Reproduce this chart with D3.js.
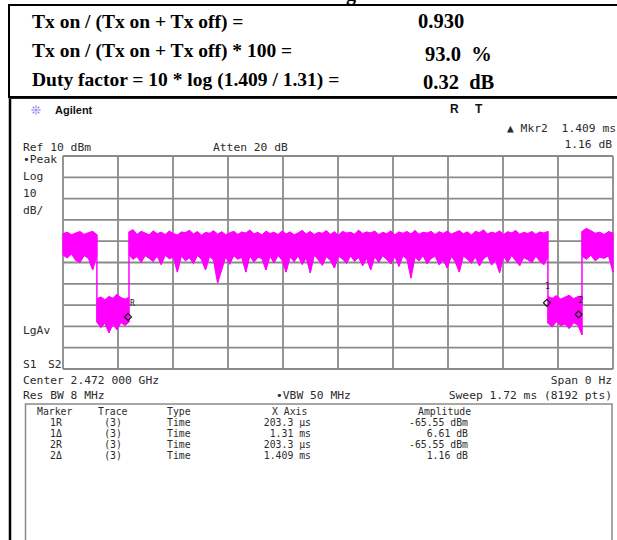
<!DOCTYPE html>
<html><head><meta charset="utf-8">
<script src="https://cdn.jsdelivr.net/npm/d3@7"></script>
<style>html,body{margin:0;padding:0;background:#fff;overflow:hidden}svg{display:block}</style>
</head><body>
<script>
// ---------- summary table ----------
const summaryLabels = ["Tx on / (Tx on + Tx off) =", "Tx on / (Tx on + Tx off) * 100 =", "Duty factor = 10 * log (1.409 / 1.31) ="];
const summaryValues = ["0.930", "93.0\u00A0\u00A0%", "0.32\u00A0\u00A0dB"];

// ---------- analyzer settings ----------
const refLevel = 10;        // dBm (top of screen)
const dbPerDiv = 10;        // dB / division
const divisions = 10;
const sweepTime = 1.72;     // ms
const headerLeft = ["Ref 10 dBm"];
const headerMid = ["Atten 20 dB"];
const sideLabels = ["\u2022Peak", "Log", "10", "dB/"];
const markerReadout = ["\u25B2 Mkr2", "1.409 ms", "1.16 dB"];
const footerRow1 = ["Center 2.472 000 GHz", "Span 0 Hz"];
const footerRow2 = ["Res BW 8 MHz", "\u2022VBW 50 MHz", "Sweep 1.72 ms (8192 pts)"];

// ---------- trace: burst segments (ms) ----------
const segStart = [0, 0.106, 0.2064, 1.5165, 1.623];
const segEnd   = [0.106, 0.2064, 1.5165, 1.623, 1.72];
const onMaxA  = [-26.5,-25.8,-27.0,-26.2,-25.5,-26.8,-26.0,-25.4,-26.9];
const onMinA  = [-36.5,-37.8,-36.0,-39.0,-40.0,-36.8,-38.0,-43.5,-36.5];
const offMaxB = [-57.0,-56.2,-57.5,-56.0,-56.8,-55.0,-56.5,-57.2,-56.4];
const offMinB = [-68.0,-70.5,-68.5,-73.0,-69.0,-71.5,-68.2,-69.5,-68.0];
const onMaxC  = [-25.6,-24.6,-26.8,-25.4,-26.2,-27.0,-25.2,-26.5,-25.8,-26.9,
                 -25.3,-26.4,-27.1,-25.7,-26.0,-24.9,-26.6,-25.5,-27.2,-25.9,
                 -26.3,-25.1,-26.7,-25.6,-27.0,-26.1,-25.4,-26.8,-25.7,-26.2,
                 -24.8,-26.5,-25.9,-27.1,-25.3,-26.4,-25.8,-26.9,-25.2,-26.6,
                 -25.7,-27.0,-26.1,-25.0,-26.6,-25.5,-26.9,-25.9,-26.3,-25.1,
                 -26.8,-25.6,-27.2,-25.4,-26.2,-25.8,-26.7,-24.9,-26.4,-25.7,
                 -26.1,-25.3,-26.9,-25.9,-26.5,-25.2,-27.0,-25.7,-26.3,-25.5,
                 -26.6,-25.0,-26.8,-25.8,-26.2,-25.4,-26.9,-25.6,-26.4,-25.3,
                 -26.7,-25.9,-25.1,-26.5,-25.7,-27.1,-25.4,-26.0,-24.7,-26.6,
                 -25.8,-26.3,-25.2,-26.9,-25.6,-26.1,-25.0,-26.7,-25.9,-26.4,
                 -25.5,-26.8,-25.7,-26.2,-25.4];
const onMinC  = [-36.5,-38.5,-37.2,-40.0,-36.8,-38.0,-39.5,-37.0,-41.0,-36.6,
                 -38.2,-37.4,-44.5,-36.9,-39.2,-37.8,-40.5,-36.7,-38.6,-43.5,
                 -37.1,-39.0,-49.6,-43.5,-37.3,-40.8,-36.8,-38.4,-37.6,-44.5,
                 -36.9,-39.8,-37.5,-38.1,-43.5,-37.0,-40.2,-36.7,-38.9,-44.5,
                 -37.4,-39.6,-36.8,-40.9,-37.9,-44.9,-36.6,-38.7,-41.3,-37.2,
                 -39.1,-42.6,-37.0,-38.3,-40.4,-36.9,-39.4,-37.6,-41.5,-38.0,
                 -43.5,-37.3,-39.9,-36.8,-38.6,-40.7,-37.1,-41.8,-36.9,-38.4,
                 -47.3,-37.5,-39.3,-36.7,-40.6,-38.1,-37.0,-41.1,-38.8,-42.6,
                 -37.2,-39.7,-44.5,-36.9,-38.5,-40.3,-37.4,-41.6,-38.2,-36.8,
                 -41.2,-38.9,-44.9,-37.1,-40.0,-36.7,-39.2,-41.4,-37.6,-38.7,
                 -40.1,-37.0,-39.5,-41.0,-37.3];
const offMaxD = [-56.0,-56.8,-55.6,-57.2,-56.3,-55.4,-57.0,-56.1,-55.8];
const offMinD = [-68.5,-70.2,-67.8,-69.6,-68.9,-71.0,-68.3,-69.2,-74.0];
const onMaxE  = [-25.4,-24.0,-25.1,-26.3,-25.8,-26.9,-25.5,-26.2];
const onMinE  = [-37.0,-38.4,-36.6,-39.2,-37.5,-38.0,-36.9,-44.5];

// ---------- markers ----------
const markerRefTime = 0.2033;   // ms
const markerRefLevel = -65.55;  // dBm
const markerDeltaTime = [1.31, 1.409];  // ms
const markerDeltaLevel = [6.61, 1.16];  // dB
const tableHeaders = ["Marker", "Trace", "Type", "X Axis", "Amplitude"];
const markerNames = ["1R", "1\u0394", "2R", "2\u0394"];
const markerTraces = ["(3)", "(3)", "(3)", "(3)"];
const markerTypes = ["Time", "Time", "Time", "Time"];
const markerXAxis = ["203.3 \u03BCs", "1.31 ms", "203.3 \u03BCs", "1.409 ms"];
const markerAmps = ["-65.55 dBm", "6.61 dB", "-65.55 dBm", "1.16 dB"];

// =====================================================
const W = 617, H = 540;
const svg = d3.select("body").append("svg").attr("width", W).attr("height", H);

// ---------- summary box ----------
svg.append("text").attr("x", 346).attr("y", 0).attr("font-family", "Liberation Serif").attr("font-weight", "bold")
  .attr("font-size", 20).text("g");
svg.append("rect").attr("x", 9).attr("y", 5).attr("width", 640).attr("height", 92)
  .attr("fill", "none").attr("stroke", "#000").attr("stroke-width", 2);
const labY = [28, 57, 86], valY = [28, 61, 89], valX = [418, 425, 423];
const sumG = svg.append("g").attr("font-family", "Liberation Serif").attr("font-weight", "bold")
  .attr("fill", "#000");
sumG.selectAll(".lab").data(summaryLabels).join("text").attr("class", "lab").attr("font-size", 19.5)
  .attr("x", 32).attr("y", (d, i) => labY[i]).text(d => d);
sumG.selectAll(".val").data(summaryValues).join("text").attr("class", "val").attr("font-size", 20.5)
  .attr("x", (d, i) => valX[i]).attr("y", (d, i) => valY[i]).text(d => d);

// ---------- lower panel frame ----------
svg.append("line").attr("x1", 10).attr("x2", 10).attr("y1", 97).attr("y2", H)
  .attr("stroke", "#000").attr("stroke-width", 2.5);
svg.append("line").attr("x1", 9).attr("x2", W).attr("y1", 98.5).attr("y2", 98.5)
  .attr("stroke", "#222").attr("stroke-width", 1);

// ---------- logo ----------
const star = svg.append("g").attr("transform", "translate(36,110)").attr("stroke", "#7a7aee").attr("stroke-width", 1.1);
d3.range(8).forEach(k => {
  const a = k * Math.PI / 4;
  star.append("line").attr("x1", 2.2 * Math.cos(a)).attr("y1", 2.2 * Math.sin(a))
    .attr("x2", 4.6 * Math.cos(a)).attr("y2", 4.6 * Math.sin(a));
});
star.append("circle").attr("r", 1.6).attr("fill", "#9a9af5").attr("stroke", "none");
svg.append("text").attr("x", 55).attr("y", 114).attr("font-family", "Liberation Sans").attr("font-weight", "bold")
  .attr("font-size", 11).attr("fill", "#111").text("Agilent");
svg.append("text").attr("x", 450).attr("y", 113).attr("font-family", "Liberation Sans").attr("font-weight", "bold")
  .attr("font-size", 12).attr("fill", "#111").text("R");
svg.append("text").attr("x", 475).attr("y", 113).attr("font-family", "Liberation Sans").attr("font-weight", "bold")
  .attr("font-size", 12).attr("fill", "#111").text("T");

// ---------- analyzer text ----------
const mono = "DejaVu Sans Mono";
const tcol = "#2b2b2b";
function mtext(x, y, s, anchor, size) {
  return svg.append("text").attr("x", x).attr("y", y).attr("font-family", mono)
    .attr("font-size", size || 11.3).attr("fill", tcol).attr("text-anchor", anchor || "start")
    .text(s);
}
mtext(23, 151, headerLeft[0]);
mtext(213, 151, headerMid[0]);
mtext(507, 132, markerReadout[0]);
mtext(616, 132, markerReadout[1], "end");
mtext(612, 148, markerReadout[2], "end");
const sideY = [163, 180, 197, 214];
sideLabels.forEach((s, i) => mtext(23, sideY[i], s));
mtext(23, 334, "LgAv");
mtext(23, 368, "S1");
mtext(48, 368, "S2");
mtext(23, 384, footerRow1[0]);
mtext(612, 384, footerRow1[1], "end");
mtext(23, 399, footerRow2[0]);
mtext(276, 399, footerRow2[1]);
mtext(612, 399, footerRow2[2], "end");

// ---------- scales ----------
const x = d3.scaleLinear().domain([0, sweepTime]).range([63, 613]);
const y = d3.scaleLinear().domain([refLevel - dbPerDiv * divisions, refLevel]).range([369, 156]);

// ---------- grid ----------
const grid = svg.append("g").attr("stroke", "#8a8a8a").attr("stroke-width", 1.8).attr("fill", "none");
const xt = d3.range(divisions + 1).map(i => i * sweepTime / divisions);
const yt = d3.range(divisions + 1).map(i => refLevel - i * dbPerDiv);
grid.selectAll(".vx").data(xt).join("line").attr("x1", d => x(d)).attr("x2", d => x(d))
  .attr("y1", y.range()[1]).attr("y2", y.range()[0]);
grid.selectAll(".hy").data(yt).join("line").attr("y1", d => y(d)).attr("y2", d => y(d))
  .attr("x1", x.range()[0]).attr("x2", x.range()[1]);

// ---------- trace ----------
const segMax = [onMaxA, offMaxB, onMaxC, offMaxD, onMaxE];
const segMin = [onMinA, offMinB, onMinC, offMinD, onMinE];
const pts = [];
const segPts = segMax.map((mx, s) => {
  const n = mx.length;
  const arr = mx.map((v, j) => ({ t: segStart[s] + j * (segEnd[s] - segStart[s]) / (n - 1), hi: v, lo: segMin[s][j] }));
  arr.forEach(p => pts.push(p));
  return arr;
});
const mag = "#ff00ff";
const tr = svg.append("g");
const area = d3.area().x(d => x(d.t)).y0(d => y(d.lo)).y1(d => y(d.hi));
segPts.forEach(sp => tr.append("path").attr("d", area(sp)).attr("fill", mag).attr("stroke", mag).attr("stroke-width", 0.6));
tr.append("path").attr("d", d3.line().x(d => x(d.t)).y(d => y(d.hi))(pts)).attr("fill", "none").attr("stroke", mag).attr("stroke-width", 1);
tr.append("path").attr("d", d3.line().x(d => x(d.t)).y(d => y(d.lo))(pts)).attr("fill", "none").attr("stroke", mag).attr("stroke-width", 1);
tr.selectAll(".sp").data(pts).join("line").attr("x1", d => x(d.t)).attr("x2", d => x(d.t))
  .attr("y1", d => y(d.hi)).attr("y2", d => y(d.lo)).attr("stroke", mag).attr("stroke-width", 1);

// ---------- markers on trace ----------
const mk = [
  { t: markerRefTime, v: markerRefLevel, label: "R", dx: 2, dy: -11 },
  { t: markerRefTime + markerDeltaTime[0], v: markerRefLevel + markerDeltaLevel[0], label: "1", dx: -2, dy: -14 },
  { t: markerRefTime + markerDeltaTime[1], v: markerRefLevel + markerDeltaLevel[1], label: "2", dx: 0, dy: -11 }
];
const mg = svg.append("g");
mk.forEach(m => {
  const cx = x(m.t), cy = y(m.v);
  mg.append("path").attr("d", `M${cx - 3.5},${cy}L${cx},${cy - 3.5}L${cx + 3.5},${cy}L${cx},${cy + 3.5}Z`)
    .attr("fill", "none").attr("stroke", "#111").attr("stroke-width", 1.2);
  mg.append("text").attr("x", cx + m.dx).attr("y", cy + m.dy).attr("font-family", mono).attr("font-size", 8)
    .attr("fill", "#222").text(m.label);
});

// ---------- marker table ----------
svg.append("rect").attr("x", 25.5).attr("y", 404).attr("width", 586.5).attr("height", 160)
  .attr("fill", "none").attr("stroke", "#8a8a8a").attr("stroke-width", 1.5);
const ts = 9.8;
const rowY = [415, 426, 437, 448, 459];
mtext(37, rowY[0], tableHeaders[0], "start", ts);
mtext(98, rowY[0], tableHeaders[1], "start", ts);
mtext(167, rowY[0], tableHeaders[2], "start", ts);
mtext(272, rowY[0], tableHeaders[3], "start", ts);
mtext(418, rowY[0], tableHeaders[4], "start", ts);
markerNames.forEach((m, i) => {
  const yy = rowY[i + 1];
  mtext(56, yy, m, "middle", ts);
  mtext(113, yy, markerTraces[i], "middle", ts);
  mtext(167, yy, markerTypes[i], "start", ts);
  mtext(311, yy, markerXAxis[i], "end", ts);
  mtext(468, yy, markerAmps[i], "end", ts);
});
</script>
</body></html>
